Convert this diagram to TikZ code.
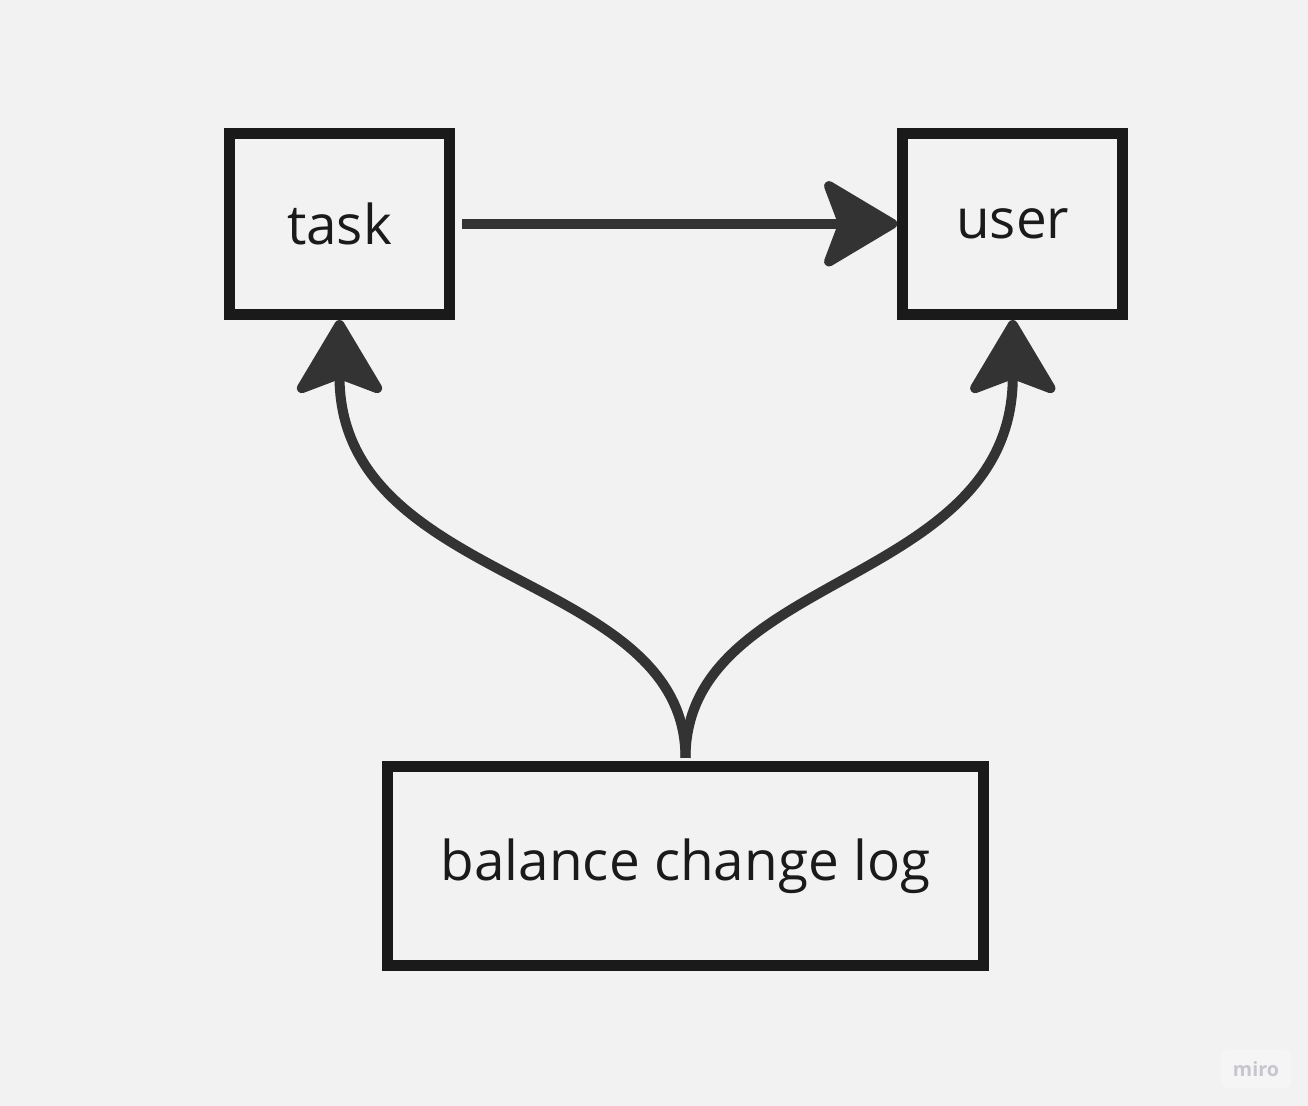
\documentclass[tikz,border=0pt]{standalone}
\usepackage{fontspec}
\setmainfont{Open Sans}
\usetikzlibrary{arrows.meta}
\definecolor{bg}{HTML}{F2F2F2}
\definecolor{boxc}{HTML}{1A1A1A}
\definecolor{connc}{HTML}{333333}
\definecolor{miroc}{HTML}{C6C6CE}
\definecolor{mirobg}{HTML}{F5F5F5}
\begin{document}
\begin{tikzpicture}[x=0.01cm,y=-0.01cm,
  box/.style={draw=boxc, line width=0.11cm, rectangle, inner sep=0pt, text=boxc,
    font=\fontsize{15.6}{19}\selectfont},
  conn/.style={draw=connc, line width=0.10cm,
    -{Stealth[length=0.82cm,width=0.97cm,inset=0.18cm,round]}}]
\fill[bg] (0,0) rectangle (1308,1106);
\useasboundingbox (0,0) rectangle (1308,1106);
\node[box, minimum width=2.2cm, minimum height=1.813cm] (task) at (339.5,223.8) {task};
\node[box, minimum width=2.2cm, minimum height=1.813cm] (user) at (1012.8,223.8) {user};
\node[box, minimum width=5.96cm, minimum height=1.99cm] (log) at (685.5,866) {\raisebox{-0.03cm}{balance change log}};
\draw[conn, shorten <=0.07cm] (task.east) -- (user.west);
\draw[conn, shorten <=0.03cm] (log.north) .. controls +(0,-190) and +(0,268) .. (task.south);
\draw[conn, shorten <=0.03cm] (log.north) .. controls +(0,-190) and +(0,268) .. (user.south);
\node[fill=mirobg, rounded corners=0.05cm, minimum width=0.6cm, minimum height=0.34cm,
  text=miroc, font=\fontsize{5.6}{7}\selectfont\bfseries] (miro) at (1256,1069) {miro};
\end{tikzpicture}
\end{document}
